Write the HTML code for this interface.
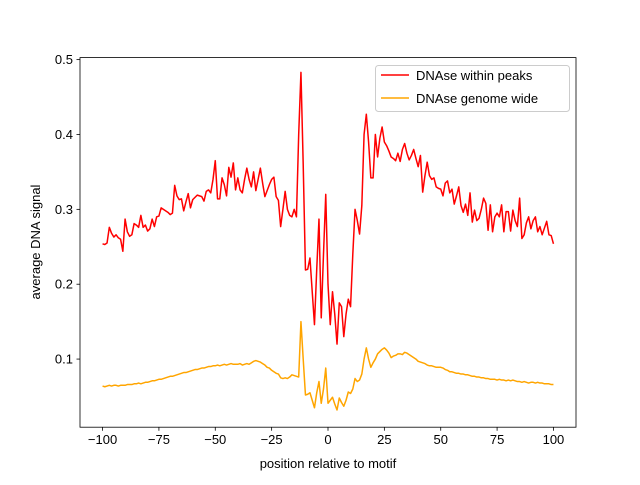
<!DOCTYPE html>
<html><head><meta charset="utf-8"><style>
body{margin:0;background:#fff}
svg text{font-family:"Liberation Sans","DejaVu Sans",sans-serif;font-size:13px;fill:#000}
</style></head><body>
<svg id="chart" width="640" height="480" xmlns="http://www.w3.org/2000/svg">
<rect x="0" y="0" width="640" height="480" fill="#fff"/>
<g id="plot"></g>
<g id="axes"></g>
<g id="legend">
 <rect x="375.5" y="65.5" width="194" height="46" rx="3" fill="#fff" fill-opacity="0.8" stroke="#ccc"/>
 <line x1="381" y1="75" x2="409" y2="75" stroke="#ff0000" stroke-width="1.5"/>
 <text x="416" y="80">DNAse within peaks</text>
 <line x1="381" y1="98" x2="409" y2="98" stroke="#ffa500" stroke-width="1.5"/>
 <text x="416" y="103">DNAse genome wide</text>
</g>
<text x="328" y="468" text-anchor="middle">position relative to motif</text>
<text transform="translate(40,242) rotate(-90)" text-anchor="middle">average DNA signal</text>
</svg>
<script>
const redValues=[
0.254,0.253,0.255,0.276,0.268,0.263,0.266,0.262,0.260,0.244,
0.287,0.270,0.264,0.266,0.281,0.279,0.276,0.292,0.276,0.279,
0.271,0.274,0.287,0.277,0.290,0.291,0.302,0.300,0.298,0.296,
0.293,0.295,0.332,0.318,0.313,0.314,0.298,0.310,0.321,0.302,
0.313,0.316,0.319,0.318,0.317,0.311,0.324,0.326,0.322,0.340,
0.365,0.314,0.314,0.342,0.333,0.318,0.356,0.343,0.362,0.326,
0.342,0.326,0.322,0.340,0.355,0.340,0.330,0.350,0.325,0.340,
0.355,0.335,0.317,0.325,0.333,0.340,0.343,0.317,0.312,0.277,
0.300,0.324,0.300,0.292,0.290,0.300,0.290,0.400,0.483,0.360,
0.219,0.220,0.235,0.190,0.146,0.220,0.287,0.155,0.240,0.320,
0.200,0.146,0.190,0.160,0.120,0.175,0.170,0.130,0.160,0.180,
0.170,0.240,0.300,0.285,0.267,0.305,0.400,0.427,0.390,0.342,
0.342,0.400,0.370,0.395,0.410,0.390,0.385,0.378,0.370,0.368,
0.365,0.375,0.364,0.380,0.388,0.375,0.366,0.372,0.380,0.368,
0.357,0.372,0.323,0.345,0.363,0.345,0.340,0.342,0.330,0.328,
0.327,0.318,0.335,0.338,0.322,0.327,0.307,0.318,0.330,0.305,
0.296,0.307,0.292,0.322,0.283,0.299,0.285,0.288,0.300,0.315,
0.308,0.272,0.306,0.270,0.290,0.295,0.290,0.306,0.270,0.297,
0.297,0.271,0.299,0.285,0.277,0.315,0.261,0.266,0.282,0.290,
0.274,0.285,0.290,0.270,0.277,0.266,0.275,0.284,0.266,0.265,
0.254];
const orangeValues=[
0.064,0.063,0.064,0.065,0.064,0.065,0.065,0.064,0.065,0.065,
0.065,0.066,0.066,0.066,0.067,0.067,0.068,0.067,0.068,0.069,
0.069,0.070,0.071,0.071,0.072,0.073,0.073,0.074,0.075,0.076,
0.077,0.077,0.078,0.079,0.080,0.081,0.082,0.082,0.083,0.084,
0.085,0.086,0.086,0.087,0.088,0.088,0.089,0.090,0.090,0.091,
0.091,0.092,0.091,0.092,0.093,0.092,0.093,0.094,0.093,0.093,
0.093,0.094,0.092,0.093,0.094,0.093,0.095,0.097,0.098,0.097,
0.096,0.094,0.092,0.089,0.088,0.085,0.083,0.081,0.080,0.075,
0.074,0.075,0.074,0.076,0.079,0.078,0.077,0.076,0.150,0.100,
0.052,0.053,0.055,0.045,0.035,0.055,0.070,0.041,0.060,0.088,
0.041,0.045,0.049,0.040,0.032,0.048,0.042,0.037,0.045,0.056,
0.054,0.060,0.074,0.070,0.072,0.080,0.100,0.115,0.100,0.089,
0.095,0.100,0.107,0.110,0.113,0.115,0.112,0.108,0.102,0.104,
0.105,0.107,0.107,0.106,0.109,0.108,0.106,0.104,0.102,0.100,
0.097,0.096,0.095,0.094,0.092,0.091,0.091,0.090,0.089,0.089,
0.089,0.088,0.086,0.085,0.083,0.083,0.082,0.081,0.081,0.080,
0.080,0.079,0.079,0.078,0.077,0.077,0.076,0.076,0.075,0.075,
0.074,0.074,0.073,0.073,0.073,0.072,0.073,0.072,0.072,0.071,
0.072,0.071,0.072,0.071,0.070,0.070,0.069,0.070,0.069,0.068,
0.069,0.069,0.068,0.069,0.068,0.068,0.067,0.067,0.067,0.066,
0.066];
const xStart=-100;
const xTickLabels=[-100,-75,-50,-25,0,25,50,75,100];
const yTickLabels=[0.1,0.2,0.3,0.4,0.5];

const L=80,R=576,T=57.6,B=427.2;
const xMin=-110,xMax=110,yMin=0.009,yMax=0.5027;
function xs(v){return L+(v-xMin)/(xMax-xMin)*(R-L);}
function ys(v){return B-(v-yMin)/(yMax-yMin)*(B-T);}
const NS='http://www.w3.org/2000/svg';
const plot=document.getElementById('plot'),axes=document.getElementById('axes');
function mk(t,a,p){const e=document.createElementNS(NS,t);for(const k in a)e.setAttribute(k,a[k]);p.appendChild(e);return e;}

function series(vals,color,name){
  const pts=vals.map((v,i)=>xs(xStart+i).toFixed(2)+','+ys(v).toFixed(2)).join(' ');
  const pl=mk('polyline',{points:pts,fill:'none',stroke:color,'stroke-width':1.5,'stroke-linejoin':'round'},plot);
  
  
}
series(redValues,'#ff0000','line-dnase-within-peaks');
series(orangeValues,'#ffa500','line-dnase-genome-wide');

const frame=mk('rect',{x:L,y:T,width:R-L,height:B-T,fill:'none',stroke:'#000','stroke-width':0.8},axes);



xTickLabels.forEach(v=>{
  const x=xs(v);
  const tk=mk('line',{x1:x,y1:B,x2:x,y2:B+3.5,stroke:'#000','stroke-width':0.8},axes);
  
  
  const t=mk('text',{x:x,y:B+17,'text-anchor':'middle'},axes);
  t.textContent=String(v).replace('-','\u2212');
  
  
});
yTickLabels.forEach(v=>{
  const y=ys(v);
  const tk=mk('line',{x1:L-3.5,y1:y,x2:L,y2:y,stroke:'#000','stroke-width':0.8},axes);
  
  
  const t=mk('text',{x:L-7,y:y+4.5,'text-anchor':'end'},axes);
  t.textContent=v.toFixed(1);
  
  
});
</script>
</body></html>
